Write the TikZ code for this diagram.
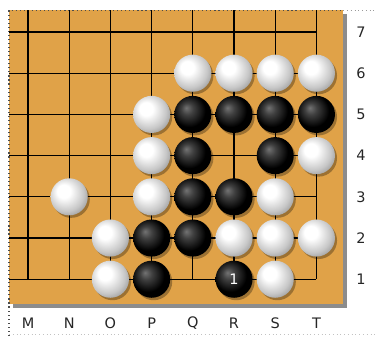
\documentclass[tikz,border=0pt]{standalone}
\usepackage{fontspec}
\setmainfont{DejaVu Sans}
\usepackage{tikz}
\usetikzlibrary{positioning}
\definecolor{wood}{HTML}{E0A248}
\definecolor{edge}{HTML}{8C8C8C}
\definecolor{dotc}{HTML}{9A9A9A}
\pgfdeclareradialshading{wshade}{\pgfpoint{-9bp}{9bp}}{color(0bp)=(white); color(9bp)=(white);
  color(24bp)=(black!22); color(36bp)=(black!48); color(50bp)=(black!48)}
\pgfdeclareradialshading{bshade}{\pgfpoint{-9bp}{9bp}}{color(0bp)=(black!55); color(8bp)=(black!75);
  color(22bp)=(black); color(50bp)=(black)}
\tikzset{
  stone/.style={circle,minimum size=9mm,inner sep=0pt,
    preaction={fill=black,opacity=0.3,transform canvas={shift={(0.5mm,-0.6mm)}}}},
  wst/.style={stone,shading=wshade},
  bst/.style={stone,shading=bshade,text=white,font=\fontsize{10}{12}\selectfont},
  grid/.style={line width=0.75pt,color=black},
  coord/.style={font=\fontsize{10}{12}\selectfont,text=black!85}
}
\begin{document}
\begin{tikzpicture}[x=1cm,y=1cm]
  \useasboundingbox (-0.68,-1.378) rectangle (8.47,6.777);
  % board with shadow
  \fill[edge] (-0.36,-0.69) rectangle (7.75,6.43);
  \fill[wood] (-0.46,-0.61) rectangle (7.65,6.53);
  % frame dots
  \draw[dotc,dotted,line width=0.6pt] (7.65,6.53) -- (8.47,6.53);
  \draw[dotc!60,dotted,line width=0.6pt] (-0.46,-1.35) -- (8.47,-1.35);
  \draw[black!70,dotted,line width=0.8pt] (-0.46,-1.378) -- (-0.46,6.53) -- (7.65,6.53);
  % grid
  \foreach \i in {0,...,7}{\draw[grid] (\i,6.53) -- (\i,0);}
  \foreach \j in {0,...,6}{\draw[grid] (-0.46,\j) -- (7,\j);}
  % coordinates
  \foreach \c [count=\i from 0] in {M,N,O,P,Q,R,S,T}{
    \node[coord] (col\c) at (\i,-1.07) {\c};}
  \foreach \r in {1,...,7}{
    \node[coord] (row\r) at (8.08,\r-1) {\r};}
  % white stones
  \foreach \c/\x/\y in {Q6/4/5,R6/5/5,S6/6/5,T6/7/5,P5/3/4,P4/3/3,T4/7/3,
      N3/1/2,P3/3/2,S3/6/2,O2/2/1,R2/5/1,S2/6/1,T2/7/1,O1/2/0,S1/6/0}{
    \node[wst] (w\c) at (\x,\y) {};}
  % black stones
  \foreach \c/\x/\y in {Q5/4/4,R5/5/4,S5/6/4,T5/7/4,Q4/4/3,S4/6/3,
      Q3/4/2,R3/5/2,P2/3/1,Q2/4/1,P1/3/0}{
    \node[bst] (b\c) at (\x,\y) {};}
  \node[bst] (bR1) at (5,0) {1};
\end{tikzpicture}
\end{document}
